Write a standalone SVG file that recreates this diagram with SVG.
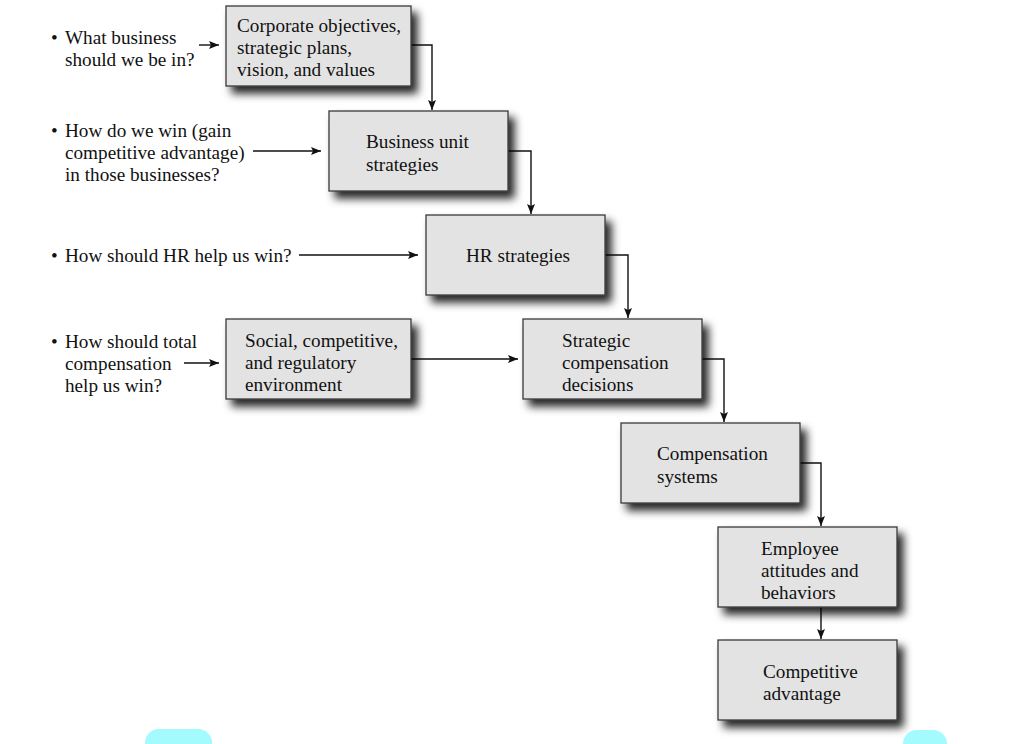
<svg xmlns="http://www.w3.org/2000/svg" width="1024" height="744" viewBox="0 0 1024 744">
<style>
.box{fill:#e3e3e3;stroke:#3a3a3a;stroke-width:1.3;filter:url(#sh)}
text{font-family:"Liberation Serif","Times New Roman",serif;font-size:19.2px;fill:#111}
.c{fill:none;stroke:#111;stroke-width:1.4}
</style>
<defs>
<filter id="sh" x="-10%" y="-10%" width="130%" height="140%">
<feDropShadow dx="6" dy="7" stdDeviation="4" flood-color="#000" flood-opacity="0.85"/>
</filter>
<marker id="ar" viewBox="0 0 10 8" refX="10" refY="4" markerWidth="10" markerHeight="8" markerUnits="userSpaceOnUse" orient="auto">
<path d="M0,0 L10,4 L0,8 L2,4 Z" fill="#111"/>
</marker>
</defs>
<rect width="1024" height="744" fill="#fff"/>
<g id="connectors">
<path class="c" d="M411,45 H432 V110" marker-end="url(#ar)"/>
<path class="c" d="M508,151 H531 V214" marker-end="url(#ar)"/>
<path class="c" d="M605,255 H628 V318" marker-end="url(#ar)"/>
<path class="c" d="M702,359 H724 V422" marker-end="url(#ar)"/>
<path class="c" d="M800,463 H821 V526" marker-end="url(#ar)"/>
<path class="c" d="M821,607 V639" marker-end="url(#ar)"/>
<path class="c" d="M411,359 H518" marker-end="url(#ar)"/>
<path class="c" d="M199,45 H219" marker-end="url(#ar)"/>
<path class="c" d="M253,151 H321" marker-end="url(#ar)"/>
<path class="c" d="M299,255 H418" marker-end="url(#ar)"/>
<path class="c" d="M184,363 H219" marker-end="url(#ar)"/>
</g>
<g id="q1"><text x="51" y="44">•</text><text x="65" y="44">What business</text><text x="65" y="66">should we be in?</text></g>
<g id="q2"><text x="51" y="137">•</text><text x="65" y="137">How do we win (gain</text><text x="65" y="159">competitive advantage)</text><text x="65" y="181">in those businesses?</text></g>
<g id="q3"><text x="51" y="262">•</text><text x="65" y="262">How should HR help us win?</text></g>
<g id="q4"><text x="51" y="348">•</text><text x="65" y="348">How should total</text><text x="65" y="370">compensation</text><text x="65" y="392">help us win?</text></g>
<g id="n1"><rect class="box" x="226" y="6" width="185" height="80"/><text x="237" y="32">Corporate objectives,</text><text x="237" y="54">strategic plans,</text><text x="237" y="76">vision, and values</text></g>
<g id="n2"><rect class="box" x="329" y="111" width="179" height="80"/><text x="366" y="148">Business unit</text><text x="366" y="171">strategies</text></g>
<g id="n3"><rect class="box" x="426" y="215" width="179" height="80"/><text x="466" y="262">HR strategies</text></g>
<g id="n4"><rect class="box" x="226" y="319" width="185" height="80"/><text x="245" y="347">Social, competitive,</text><text x="245" y="369">and regulatory</text><text x="245" y="391">environment</text></g>
<g id="n5"><rect class="box" x="523" y="319" width="179" height="80"/><text x="562" y="347">Strategic</text><text x="562" y="369">compensation</text><text x="562" y="391">decisions</text></g>
<g id="n6"><rect class="box" x="621" y="423" width="179" height="80"/><text x="657" y="460">Compensation</text><text x="657" y="483">systems</text></g>
<g id="n7"><rect class="box" x="718" y="527" width="179" height="80"/><text x="761" y="555">Employee</text><text x="761" y="577">attitudes and</text><text x="761" y="599">behaviors</text></g>
<g id="n8"><rect class="box" x="718" y="640" width="179" height="80"/><text x="763" y="678">Competitive</text><text x="763" y="700">advantage</text></g>
<g id="blobs" fill="#a3fbfd">
<rect x="145" y="729" width="67" height="30" rx="14"/>
<rect x="903" y="730" width="44" height="30" rx="14"/>
</g>
</svg>
